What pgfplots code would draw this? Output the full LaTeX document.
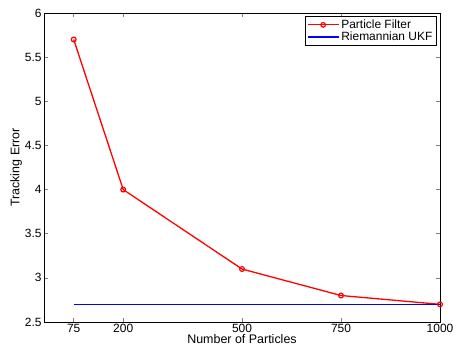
\documentclass[border=0pt]{standalone}
\usepackage{pgfplots}
\pgfplotsset{compat=1.18}
\usepackage{fontspec}
\setmainfont{Liberation Sans}
\begin{document}
\begin{tikzpicture}[font=\fontsize{12}{14}\selectfont]
\path[use as bounding box] (-44bp,-34bp) rectangle (409bp,322bp);
\begin{axis}[
  at={(0,0)}, anchor=south west,
  scale only axis, width=396bp, height=309bp,
  xmin=0, xmax=1000, ymin=2.5, ymax=6,
  xtick={75,200,500,750,1000},
  ytick={2.5,3,3.5,4,4.5,5,5.5,6},
  /pgf/number format/assume math mode=true,
  /pgf/number format/1000 sep={},
  yticklabel style={/pgf/number format/fixed, xshift=1bp},
  xticklabel style={yshift=1bp},
  tick align=inside,
  tick pos=both,
  major tick length=4bp,
  tick style={line width=0.6pt},
  axis line style={line width=0.9pt},
  xlabel={Number of Particles},
  ylabel={Tracking Error},
  label style={font=\fontsize{12.5}{14}\selectfont},
  xlabel style={yshift=5bp},
  ylabel style={yshift=-4bp},
  legend style={at={(0.99,0.99)}, anchor=north east,
    font=\fontsize{12}{14}\selectfont, inner sep=1.5pt, row sep=-2pt},
  legend cell align=left,
  every axis plot/.append style={line width=1.3pt},
]
\addplot[draw=red, line width=1.3pt, mark=o, mark size=2.4pt,
  mark options={solid, draw=red, line width=1.2pt},
  legend image code/.code={\draw[draw=red, line width=1.2pt] (0cm,0cm) -- (1.1cm,0cm);
    \draw[draw=red, line width=1.2pt] (0.55cm,0cm) circle (2.3pt);}]
  coordinates {(75,5.7) (200,4.0) (500,3.1) (750,2.8) (1000,2.7)};
\addlegendentry{Particle Filter}
\addplot[draw=blue, line width=1.3pt,
  legend image code/.code={\draw[draw=blue, line width=1.2pt] (0cm,0cm) -- (1.1cm,0cm);}]
  coordinates {(75,2.7) (1000,2.7)};
\addlegendentry{Riemannian UKF}
\end{axis}
\end{tikzpicture}
\end{document}
